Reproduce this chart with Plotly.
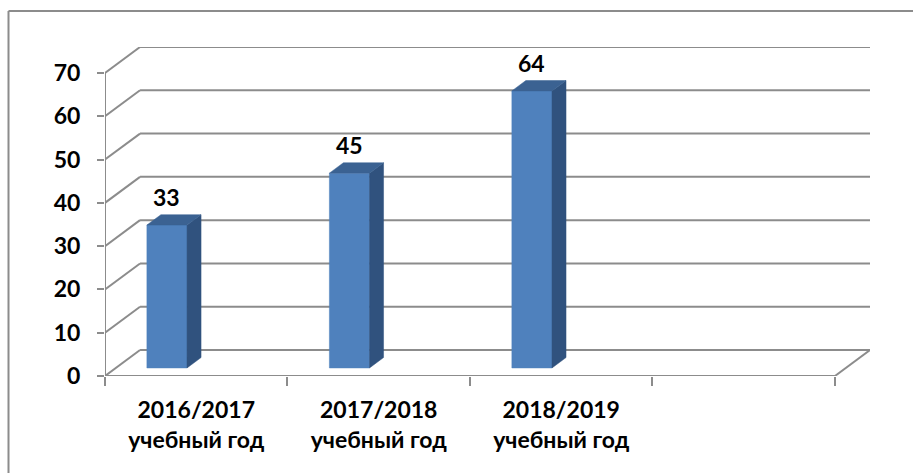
import plotly.graph_objects as go

# ---- data ----
categories = ["2016/2017<br>учебный год", "2017/2018<br>учебный год", "2018/2019<br>учебный год", ""]
values = [33, 45, 64]
y_ticks = [0, 10, 20, 30, 40, 50, 60, 70]

# ---- style / layout constants ----
W, H = 913, 473
FONT = "Lato"
GRID = "#8c8c8c"
FRONT = "#4F81BD"
SIDE = "#30527E"
TOP = "#3B6292"
DX, DY = 0.192, 6.0          # oblique depth offset (x in category units, y in value units)
F0, F1 = 0.31, 0.71          # bar depth slab (fraction of floor depth)
BAR_OFF, BAR_W = 0.17, 0.22  # bar position inside its category slot
NCAT = len(categories)
XMAX = NCAT + DX
YMAX = 76.0
FS = 23

fig = go.Figure()

shapes = []
# left wall diagonals and back-wall gridlines
for v in y_ticks:
    shapes.append(dict(type="line", xref="x", yref="y", x0=0, y0=v, x1=DX, y1=v + DY,
                       line=dict(color=GRID, width=2), layer="below"))
    shapes.append(dict(type="line", xref="x", yref="y", x0=DX, y0=v + DY, x1=NCAT + DX, y1=v + DY,
                       line=dict(color=GRID, width=2), layer="below"))
# floor front edge and right diagonal
shapes.append(dict(type="line", xref="x", yref="y", x0=0, y0=0, x1=NCAT, y1=0,
                   line=dict(color=GRID, width=2), layer="below"))
shapes.append(dict(type="line", xref="x", yref="y", x0=NCAT, y0=0, x1=NCAT + DX, y1=DY,
                   line=dict(color=GRID, width=2), layer="below"))
# vertical value axis line
shapes.append(dict(type="line", xref="x", yref="y", x0=0, y0=0, x1=0, y1=max(y_ticks),
                   line=dict(color=GRID, width=2), layer="below"))
# outer chart border (top and left visible)
shapes.append(dict(type="line", xref="paper", yref="paper", x0=8.5 / W, y0=1 - 11 / H, x1=1.01, y1=1 - 11 / H,
                   line=dict(color=GRID, width=2)))
shapes.append(dict(type="line", xref="paper", yref="paper", x0=8.5 / W, y0=1 - 11 / H, x1=8.5 / W, y1=-0.01,
                   line=dict(color=GRID, width=2)))

ddx, ddy = (F1 - F0) * DX, (F1 - F0) * DY
annotations = []
for i, v in enumerate(values):
    xf = i + BAR_OFF + F0 * DX
    yb = F0 * DY
    yt = v + F0 * DY
    # front face
    fig.add_trace(go.Scatter(x=[xf, xf + BAR_W, xf + BAR_W, xf, xf], y=[yb, yb, yt, yt, yb],
                             fill="toself", fillcolor=FRONT, mode="lines",
                             line=dict(width=0.5, color=FRONT), hoverinfo="skip", showlegend=False))
    # side face
    xr = xf + BAR_W
    fig.add_trace(go.Scatter(x=[xr, xr + ddx, xr + ddx, xr, xr], y=[yb, yb + ddy, yt + ddy, yt, yb],
                             fill="toself", fillcolor=SIDE, mode="lines",
                             line=dict(width=0.5, color=SIDE), hoverinfo="skip", showlegend=False))
    # top face
    fig.add_trace(go.Scatter(x=[xf, xf + ddx, xr + ddx, xr, xf], y=[yt, yt + ddy, yt + ddy, yt, yt],
                             fill="toself", fillcolor=TOP, mode="lines",
                             line=dict(width=0.5, color=TOP), hoverinfo="skip", showlegend=False))
    annotations.append(dict(x=xf + BAR_W / 2, y=v + F1 * DY, xref="x", yref="y", text=str(v),
                            showarrow=False, yanchor="bottom", yshift=2,
                            font=dict(family=FONT, size=FS, color="black", weight="bold")))

fig.update_layout(
    width=W, height=H,
    margin=dict(l=0, r=0, t=0, b=0),
    paper_bgcolor="white", plot_bgcolor="rgba(0,0,0,0)",
    shapes=shapes, annotations=annotations, showlegend=False,
    xaxis=dict(domain=[105 / W, 870 / W], range=[0, XMAX], automargin=False,
               tickmode="array", tickvals=[i + 0.5 for i in range(NCAT)], ticktext=categories,
               ticks="", showgrid=False, zeroline=False, showline=False,
               ticklabelstandoff=18,
               tickfont=dict(family=FONT, size=FS, color="black", weight="bold"),
               minor=dict(tickmode="linear", tick0=0, dtick=1, ticks="outside", ticklen=9,
                          tickwidth=2, tickcolor=GRID, showgrid=False)),
    yaxis=dict(domain=[1 - 376 / H, 1 - 47 / H], range=[0, YMAX], automargin=False,
               tickmode="array", tickvals=y_ticks, ticktext=[str(t) for t in y_ticks],
               ticks="outside", ticklen=7, tickwidth=2, tickcolor=GRID,
               ticklabelstandoff=12,
               showgrid=False, zeroline=False, showline=False,
               tickfont=dict(family=FONT, size=FS, color="black", weight="bold")),
)

fig.write_html("out.html")
